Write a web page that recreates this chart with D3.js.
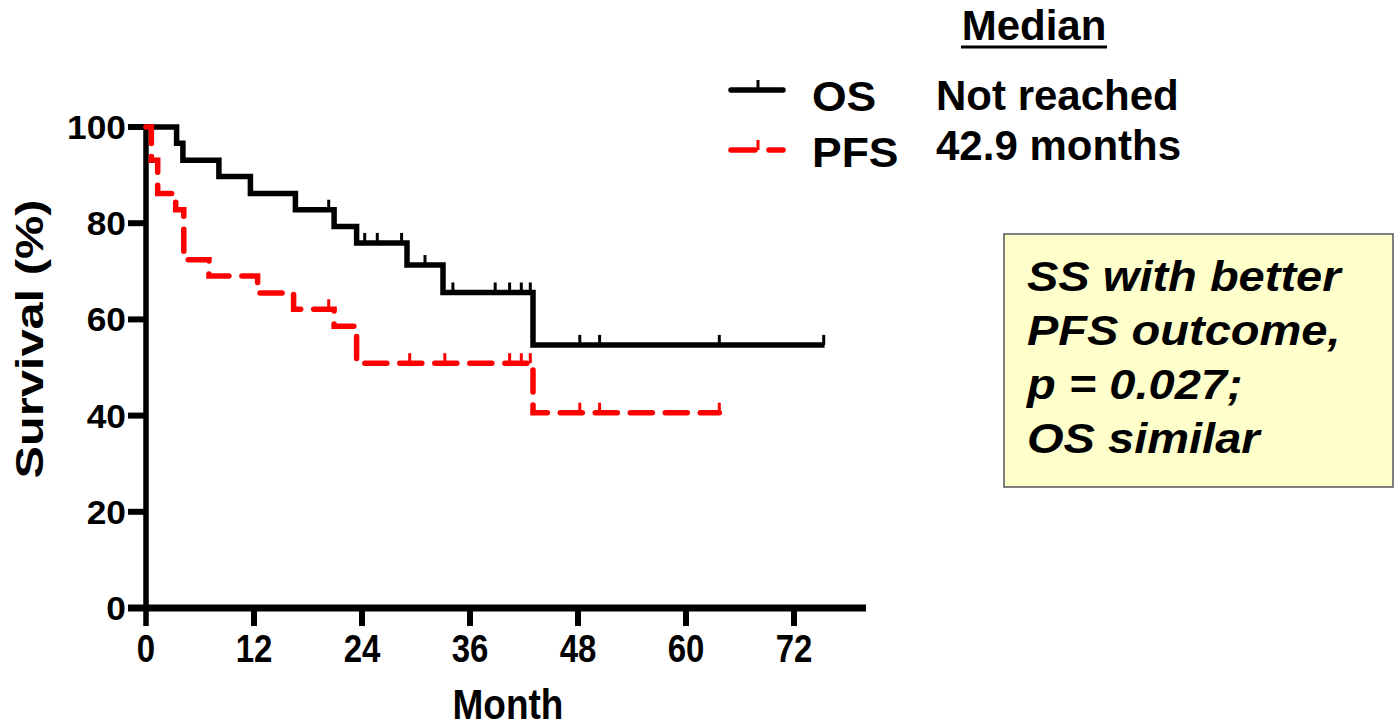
<!DOCTYPE html>
<html>
<head>
<meta charset="utf-8">
<script src="https://cdn.jsdelivr.net/npm/d3@7"></script>
<style>
  html, body { margin: 0; padding: 0; background: #fff; }
  svg text { font-family: "Liberation Sans", Arial, sans-serif; font-weight: bold; fill: #000; }
</style>
</head>
<body>
<div id="chart"></div>
<script>
// Kaplan-Meier curves.
const osTimes = [0, 3.4, 4.1, 8.1, 11.6, 16.6, 20.9, 23.4, 29.0, 33.0, 43.0, 75.4];
const osSurv = [100, 96.6, 93.1, 89.7, 86.2, 82.8, 79.3, 75.9, 71.3, 65.6, 54.7, 54.7];
const osCensor = [20.3, 24.3, 25.7, 28.4, 31.0, 34.1, 38.8, 40.4, 41.7, 42.7, 48.2, 50.4, 63.7, 75.3];

const pfsTimes = [0, 0.6, 1.3, 3.3, 4.2, 7.0, 12.4, 16.4, 20.9, 23.4, 43.0, 63.7];
const pfsSurv = [100, 93.1, 86.2, 82.8, 72.4, 69.0, 65.5, 62.1, 58.6, 50.9, 40.6, 40.6];
const pfsCensor = [20.3, 29.3, 33.2, 40.4, 41.7, 42.7, 48.2, 50.4, 63.7];

const xTicks = [0, 12, 24, 36, 48, 60, 72];
const yTicks = [0, 20, 40, 60, 80, 100];
const legendNames = ["OS", "PFS"];
const medianTexts = ["Not reached", "42.9 months"];
const noteLines = ["SS with better", "PFS outcome,", "p = 0.027;", "OS similar"];

const W = 1396, H = 727;
const svg = d3.select("#chart").append("svg").attr("width", W).attr("height", H);

const x = d3.scaleLinear([0, 80], [146, 866]);
const y = d3.scaleLinear([0, 100], [608, 127]);
const tickLen = 18;

// axes (Prism style: zero ticks continue the axis lines)
const ax = svg.append("g");
ax.append("line").attr("x1", x(0)).attr("x2", x(0)).attr("y1", y(100) - 3).attr("y2", y(0) + tickLen)
  .attr("stroke", "#000").attr("stroke-width", 5.5);
ax.append("line").attr("x1", x(0) - tickLen).attr("x2", x(80)).attr("y1", y(0)).attr("y2", y(0))
  .attr("stroke", "#000").attr("stroke-width", 7);
ax.selectAll(".xt").data(xTicks.slice(1)).join("line")
  .attr("x1", (d) => x(d)).attr("x2", (d) => x(d)).attr("y1", y(0)).attr("y2", y(0) + tickLen)
  .attr("stroke", "#000").attr("stroke-width", 6);
ax.selectAll(".yt").data(yTicks.slice(1)).join("line")
  .attr("x1", x(0) - tickLen).attr("x2", x(0)).attr("y1", (d) => y(d)).attr("y2", (d) => y(d))
  .attr("stroke", "#000").attr("stroke-width", 6);

ax.selectAll(".xl").data(xTicks).join("text")
  .attr("transform", (d) => `translate(${x(d)},662) scale(1,1.18)`)
  .attr("text-anchor", "middle").attr("font-size", 33).text((d) => d);
ax.selectAll(".yl").data(yTicks).join("text")
  .attr("transform", (d) => `translate(${x(0) - tickLen - 2},${y(d) + 12}) scale(1.07,1)`)
  .attr("text-anchor", "end").attr("font-size", 33).text((d) => d);

svg.append("text").attr("transform", "translate(508,719) scale(1,1.15)")
  .attr("text-anchor", "middle").attr("font-size", 37).text("Month");
svg.append("text").attr("transform", "translate(43,339) rotate(-90) scale(1.25,1)")
  .attr("text-anchor", "middle").attr("font-size", 39).text("Survival (%)");

// curves
const step = d3.line().x((d) => x(d[0])).y((d) => y(d[1])).curve(d3.curveStepAfter);
const stepAt = (times, surv, t) => surv[d3.bisectRight(times, t) - 1];

function drawCurve(times, surv, censor, color, dash) {
  const g = svg.append("g");
  g.append("path").datum(times.map((t, i) => [t, surv[i]])).attr("d", step)
    .attr("fill", "none").attr("stroke", color).attr("stroke-width", 5.5)
    .attr("stroke-linecap", dash ? "round" : "butt")
    .attr("stroke-dasharray", dash || null);
  g.selectAll("line").data(censor).join("line")
    .attr("x1", (d) => x(d)).attr("x2", (d) => x(d))
    .attr("y1", (d) => y(stepAt(times, surv, d))).attr("y2", (d) => y(stepAt(times, surv, d)) - 10)
    .attr("stroke", color).attr("stroke-width", 3);
}
drawCurve(osTimes, osSurv, osCensor, "#000", null);
drawCurve(pfsTimes, pfsSurv, pfsCensor, "#ff0000", "22,13");

// legend + medians
const lg = svg.append("g");
lg.append("text").attr("x", 1034).attr("y", 40).attr("text-anchor", "middle").attr("font-size", 42).text("Median");
lg.append("line").attr("x1", 961).attr("x2", 1107).attr("y1", 47).attr("y2", 47).attr("stroke", "#000").attr("stroke-width", 3);
const rows = [
  { y: 90, base: 111, mbase: 110, color: "#000", dash: null },
  { y: 150, base: 167, mbase: 160, color: "#ff0000", dash: "24,14" }
];
rows.forEach((r, i) => {
  lg.append("line").attr("x1", 731).attr("x2", 783).attr("y1", r.y).attr("y2", r.y)
    .attr("stroke", r.color).attr("stroke-width", 5.5).attr("stroke-linecap", "round")
    .attr("stroke-dasharray", r.dash);
  lg.append("line").attr("x1", 758).attr("x2", 758).attr("y1", r.y).attr("y2", r.y - 10)
    .attr("stroke", r.color).attr("stroke-width", 3);
  lg.append("text").attr("transform", `translate(812,${r.base}) scale(1.06,1)`).attr("font-size", 42).text(legendNames[i]);
  lg.append("text").attr("x", 936).attr("y", r.mbase).attr("font-size", 42).text(medianTexts[i]);
});

// note box
const nb = svg.append("g");
nb.append("rect").attr("x", 1004).attr("y", 234).attr("width", 389).attr("height", 253)
  .attr("fill", "#ffffcc").attr("stroke", "#555").attr("stroke-width", 1.5);
noteLines.forEach((t, i) => {
  nb.append("text").attr("transform", `translate(1027,${291 + i * 54}) scale(1.12,1)`)
    .attr("font-size", 42).attr("font-style", "italic").text(t);
});
</script>
</body>
</html>
